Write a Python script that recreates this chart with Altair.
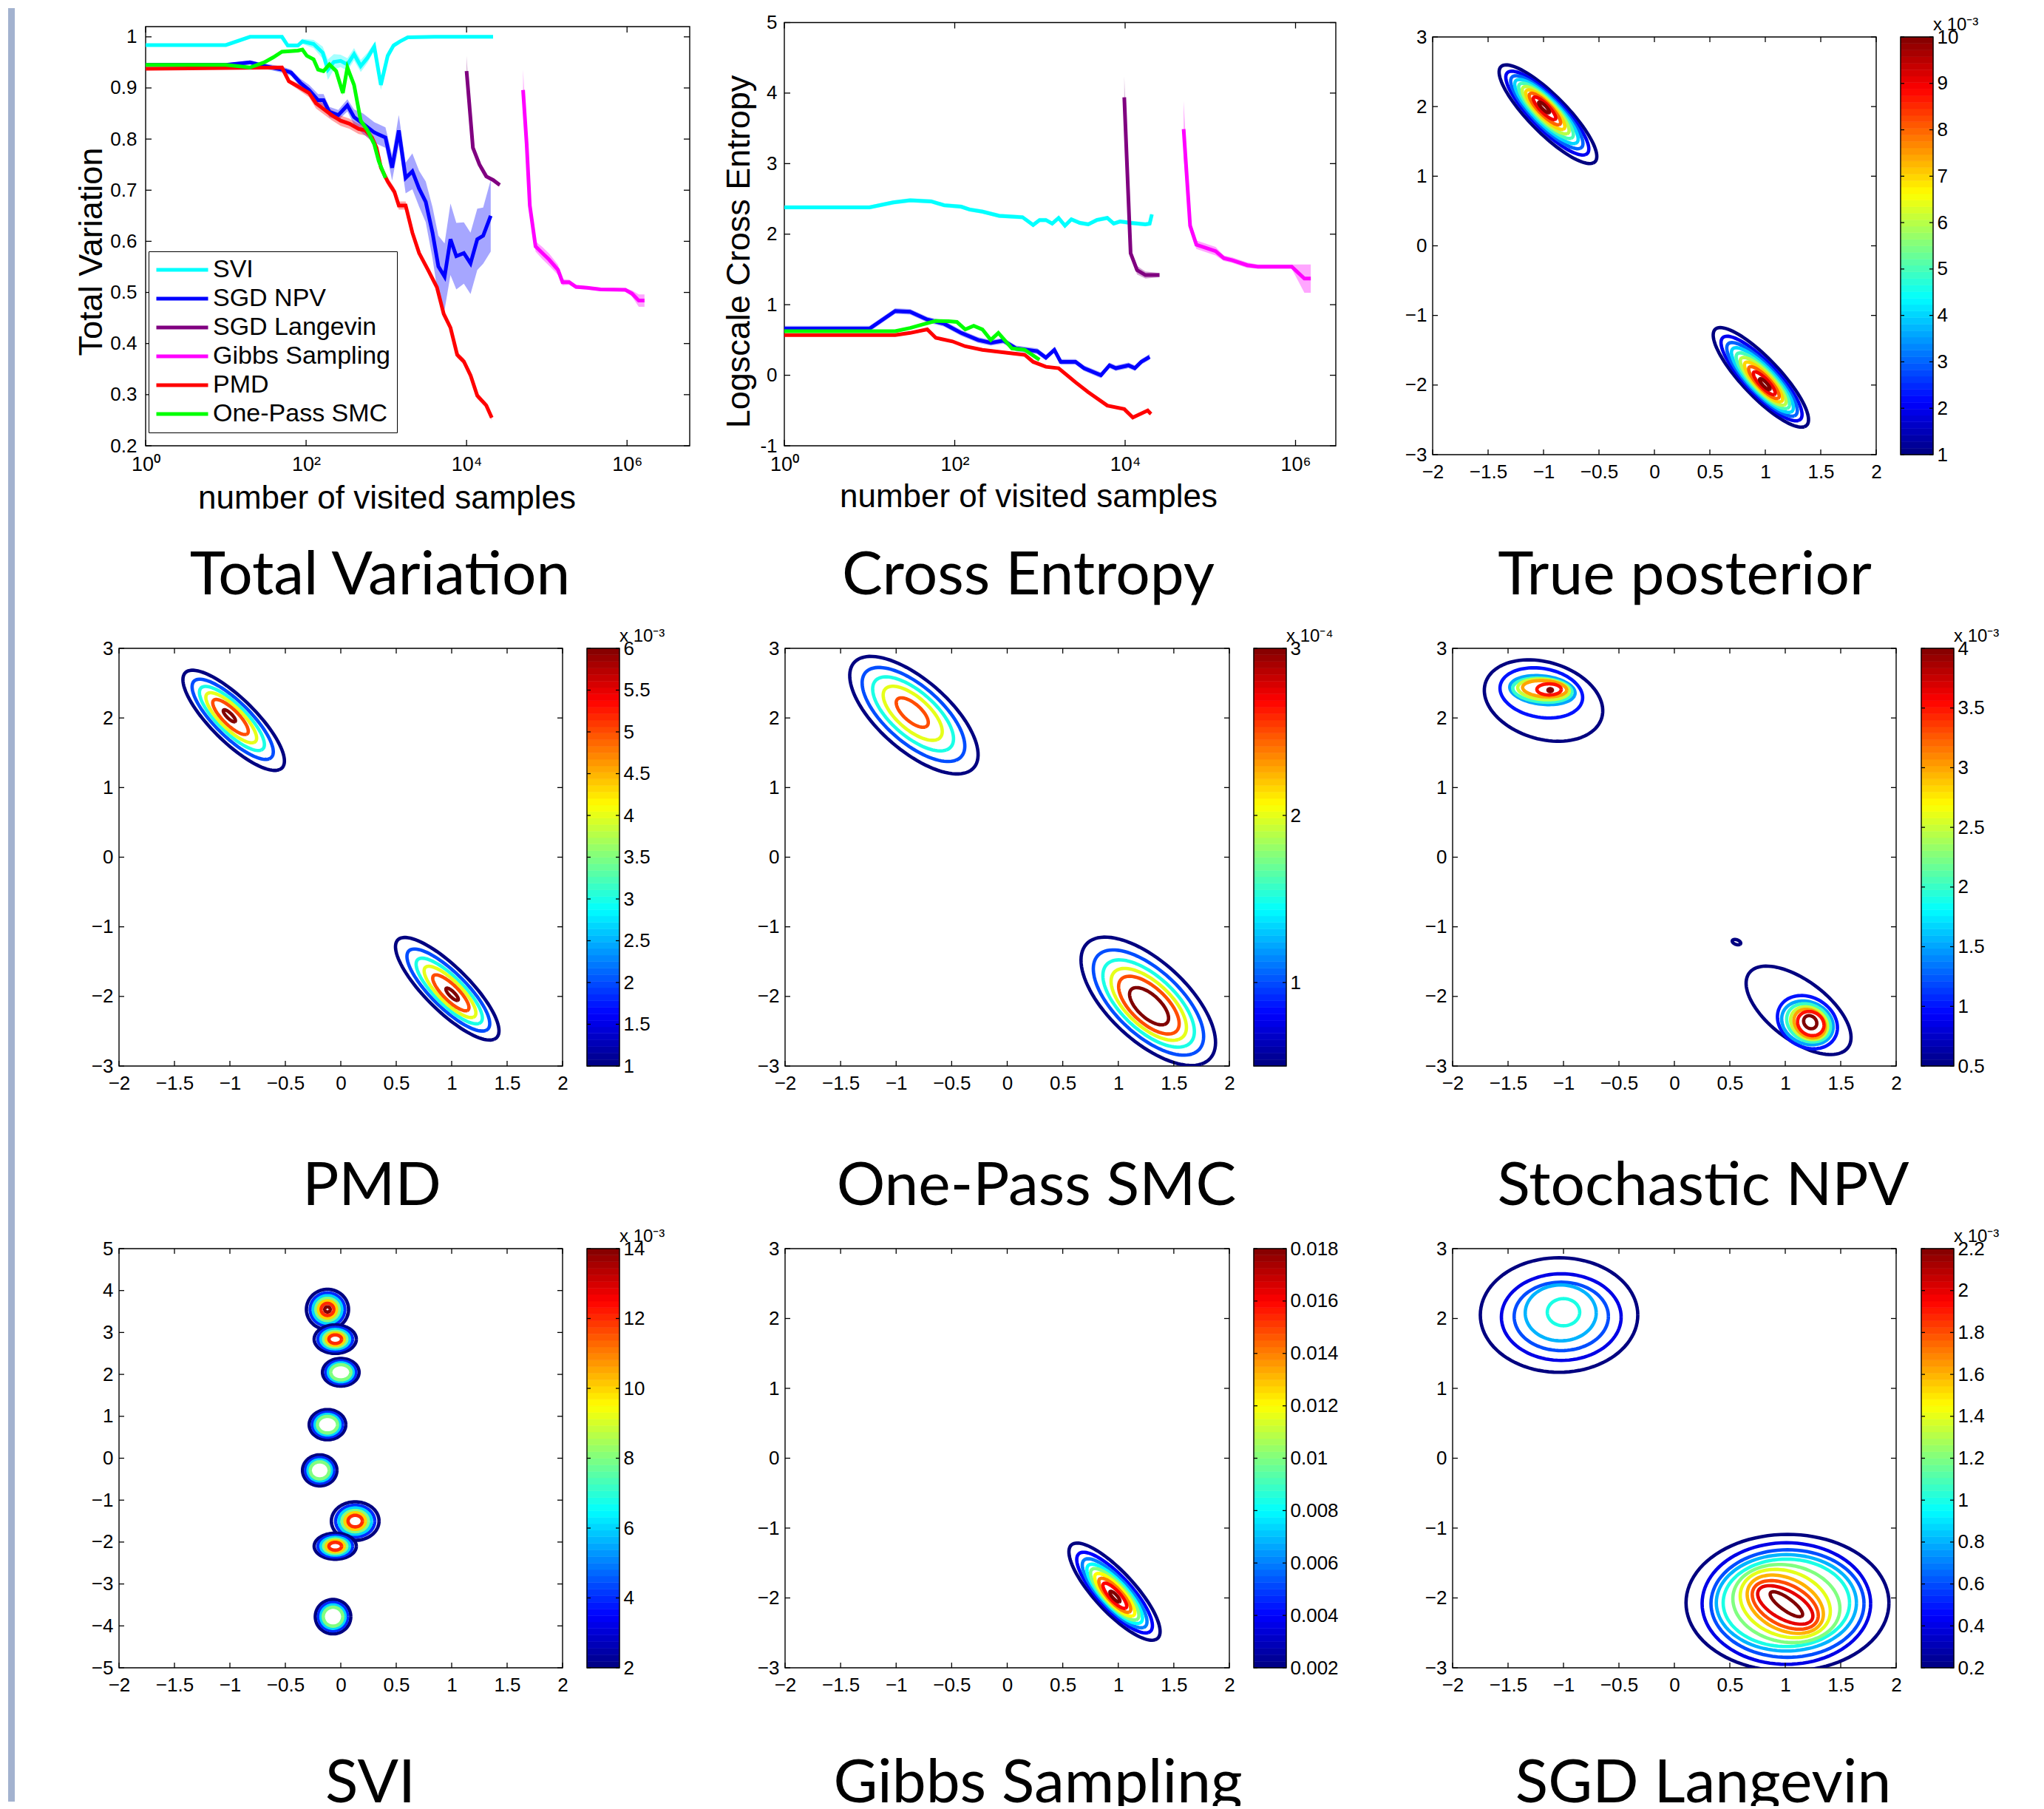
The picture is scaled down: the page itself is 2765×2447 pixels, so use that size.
import numpy as np
import pandas as pd
import altair as alt

LBL = "Liberation Sans"
CAP = "Lato"
CAP_SIZE = 82

# ---------------------------------------------------------------- line charts
SERIES = ["SVI", "SGD NPV", "SGD Langevin", "Gibbs Sampling", "PMD", "One-Pass SMC"]
SERIES_COLORS = ["#00ffff", "#0000ff", "#800080", "#ff00ff", "#ff0000", "#00ff00"]

# Total variation
TV_SVI_X = [1, 10, 20, 50, 59, 79, 90, 124, 161, 187, 222, 269, 327, 396, 480, 582, 707, 855, 1040, 1230, 1475, 1850, 4000, 21400]
TV_SVI_Y = [0.984, 0.984, 1.0, 1.0, 0.983, 0.983, 0.991, 0.986, 0.969, 0.936, 0.951, 0.953, 0.946, 0.966, 0.943, 0.959, 0.981, 0.906, 0.963, 0.983, 0.991, 0.999, 1.0, 1.0]
TV_SVI_E = [0.002, 0.002, 0.002, 0.002, 0.004, 0.004, 0.005, 0.008, 0.012, 0.02, 0.015, 0.012, 0.012, 0.012, 0.012, 0.01, 0.008, 0.01, 0.008, 0.005, 0.003, 0.002, 0.002, 0.002]

TV_NPV_X = [1, 10, 20, 30, 50, 65, 85, 109, 141, 165, 195, 252, 327, 396, 513, 707, 975, 1180, 1430, 1740, 2110, 2560, 3100, 3760, 4450, 5320, 6300, 7450, 9250, 11200, 13600, 16100, 20000]
TV_NPV_Y = [0.945, 0.945, 0.95, 0.943, 0.936, 0.93, 0.91, 0.896, 0.876, 0.876, 0.853, 0.847, 0.866, 0.843, 0.83, 0.813, 0.803, 0.744, 0.817, 0.724, 0.737, 0.703, 0.677, 0.617, 0.551, 0.531, 0.604, 0.571, 0.577, 0.557, 0.604, 0.611, 0.65]
TV_NPV_E = [0.003, 0.003, 0.004, 0.005, 0.006, 0.006, 0.008, 0.01, 0.012, 0.012, 0.01, 0.01, 0.012, 0.015, 0.02, 0.02, 0.02, 0.025, 0.03, 0.03, 0.035, 0.035, 0.04, 0.05, 0.06, 0.065, 0.07, 0.065, 0.06, 0.06, 0.06, 0.055, 0.07]

TV_LAN_X = [10000, 10800, 12000, 14500, 17600, 21400, 25900]
TV_LAN_Y = [0.933, 0.87, 0.783, 0.75, 0.727, 0.72, 0.71]
TV_LAN_E = [0.03, 0.01, 0.006, 0.004, 0.003, 0.003, 0.003]

TV_GIB_X = [50600, 56100, 61400, 72400, 87900, 107000, 138000, 157000, 190000, 231000, 318000, 468000, 951000, 1150000, 1400000, 1650000]
TV_GIB_Y = [0.896, 0.79, 0.67, 0.59, 0.577, 0.564, 0.544, 0.52, 0.52, 0.511, 0.509, 0.506, 0.505, 0.498, 0.484, 0.484]
TV_GIB_E = [0.04, 0.01, 0.008, 0.01, 0.012, 0.012, 0.01, 0.006, 0.005, 0.004, 0.003, 0.003, 0.003, 0.006, 0.012, 0.012]

TV_PMD_X = [1, 50, 61, 79, 109, 133, 161, 208, 269, 347, 451, 546, 662, 754, 857, 1040, 1260, 1430, 1740, 2110, 2560, 3310, 4270, 5190, 6300, 7640, 9250, 11200, 13600, 17600, 20600]
TV_PMD_Y = [0.9375, 0.94, 0.913, 0.903, 0.89, 0.87, 0.86, 0.847, 0.836, 0.83, 0.82, 0.817, 0.803, 0.783, 0.744, 0.717, 0.697, 0.67, 0.67, 0.617, 0.577, 0.544, 0.51, 0.458, 0.431, 0.378, 0.365, 0.338, 0.298, 0.279, 0.255]
TV_PMD_E = [0.002, 0.003, 0.004, 0.006, 0.008, 0.01, 0.01, 0.01, 0.01, 0.01, 0.01, 0.01, 0.008, 0.008, 0.008, 0.008, 0.008, 0.008, 0.008, 0.006, 0.006, 0.006, 0.006, 0.006, 0.006, 0.006, 0.006, 0.006, 0.006, 0.005, 0.005]

TV_SMC_X = [1, 10, 20, 30, 39, 50, 79, 90, 102, 124, 141, 165, 195, 237, 287, 327, 396, 480, 582, 707, 804, 975]
TV_SMC_Y = [0.945, 0.945, 0.94, 0.95, 0.96, 0.971, 0.973, 0.975, 0.963, 0.956, 0.936, 0.933, 0.946, 0.933, 0.89, 0.94, 0.906, 0.836, 0.817, 0.79, 0.757, 0.724]
TV_SMC_E = [0.002, 0.002, 0.002, 0.003, 0.003, 0.003, 0.003, 0.003, 0.003, 0.004, 0.004, 0.004, 0.004, 0.005, 0.005, 0.005, 0.005, 0.005, 0.005, 0.005, 0.005, 0.005]

# Logscale cross entropy
CE_SVI_X = [1, 10, 19, 30, 53, 75, 119, 149, 211, 333, 625, 832, 988, 1175, 1394, 1656, 1967, 2335, 2937, 3690, 4645, 6180, 7340, 8710, 11600, 17300, 19400, 20600]
CE_SVI_Y = [2.38, 2.38, 2.45, 2.48, 2.465, 2.41, 2.39, 2.35, 2.32, 2.26, 2.24, 2.13, 2.2, 2.2, 2.15, 2.23, 2.12, 2.21, 2.16, 2.14, 2.2, 2.23, 2.15, 2.18, 2.16, 2.14, 2.15, 2.28]
CE_SVI_E = 0.03

CE_NPV_X = [1, 10, 20, 30, 47.5, 75, 119, 188, 265, 373, 526, 933, 1175, 1477, 1753, 2620, 3290, 5200, 6550, 7780, 10960, 13000, 15450, 19400]
CE_NPV_Y = [0.66, 0.66, 0.91, 0.90, 0.79, 0.73, 0.60, 0.50, 0.46, 0.49, 0.38, 0.34, 0.25, 0.36, 0.19, 0.19, 0.10, 0.0, 0.14, 0.10, 0.14, 0.10, 0.19, 0.26]
CE_NPV_E = 0.04

CE_LAN_X = [9770, 11600, 13800, 17300, 25300]
CE_LAN_Y = [3.94, 1.73, 1.49, 1.42, 1.42]
CE_LAN_E = [0.3, 0.05, 0.06, 0.05, 0.03]

CE_GIB_X = [48600, 57900, 68600, 115000, 144000, 182000, 271000, 361000, 640000, 902000, 1270000, 1510000]
CE_GIB_Y = [3.49, 2.12, 1.85, 1.76, 1.66, 1.63, 1.56, 1.54, 1.54, 1.54, 1.37, 1.37]
CE_GIB_E = [0.4, 0.08, 0.06, 0.06, 0.04, 0.04, 0.04, 0.03, 0.03, 0.03, 0.2, 0.2]

CE_PMD_X = [1, 20, 30, 47.5, 60, 94, 133, 211, 470, 662, 832, 1175, 1656, 2620, 3690, 6180, 9770, 12300, 18400, 20100]
CE_PMD_Y = [0.57, 0.57, 0.60, 0.65, 0.53, 0.48, 0.41, 0.36, 0.31, 0.29, 0.19, 0.12, 0.10, -0.10, -0.24, -0.43, -0.48, -0.60, -0.50, -0.55]
CE_PMD_E = 0.02

CE_SMC_X = [1, 20, 30, 42, 60, 84, 106, 133, 167, 211, 265, 325, 470, 662, 988]
CE_SMC_Y = [0.625, 0.625, 0.67, 0.72, 0.77, 0.765, 0.755, 0.65, 0.70, 0.65, 0.50, 0.60, 0.38, 0.36, 0.22]
CE_SMC_E = 0.02

TV_DATA = {"SVI": (TV_SVI_X, TV_SVI_Y, TV_SVI_E), "SGD NPV": (TV_NPV_X, TV_NPV_Y, TV_NPV_E),
           "SGD Langevin": (TV_LAN_X, TV_LAN_Y, TV_LAN_E), "Gibbs Sampling": (TV_GIB_X, TV_GIB_Y, TV_GIB_E),
           "PMD": (TV_PMD_X, TV_PMD_Y, TV_PMD_E), "One-Pass SMC": (TV_SMC_X, TV_SMC_Y, TV_SMC_E)}
CE_DATA = {"SVI": (CE_SVI_X, CE_SVI_Y, CE_SVI_E), "SGD NPV": (CE_NPV_X, CE_NPV_Y, CE_NPV_E),
           "SGD Langevin": (CE_LAN_X, CE_LAN_Y, CE_LAN_E), "Gibbs Sampling": (CE_GIB_X, CE_GIB_Y, CE_GIB_E),
           "PMD": (CE_PMD_X, CE_PMD_Y, CE_PMD_E), "One-Pass SMC": (CE_SMC_X, CE_SMC_Y, CE_SMC_E)}

TV_YDOM = [0.2, 1.02]
TV_YTICKS = [0.2, 0.3, 0.4, 0.5, 0.6, 0.7, 0.8, 0.9, 1.0]
TV_XMAX = 6.04e6
CE_YDOM = [-1, 5]
CE_YTICKS = [-1, 0, 1, 2, 3, 4, 5]
CE_XMAX = 2.97e6
LOG_TICKS = [1, 100, 10000, 1000000]
LOG_LABELS = ["10\u2070", "10\u00b2", "10\u2074", "10\u2076"]

# ---------------------------------------------------------------- contour plots
X_TICKS = [-2, -1.5, -1, -0.5, 0, 0.5, 1, 1.5, 2]
Y_TICKS3 = [-3, -2, -1, 0, 1, 2, 3]
Y_TICKS5 = [-5, -4, -3, -2, -1, 0, 1, 2, 3, 4, 5]

# mode = (peak, centre of outermost ring, a, b, angle) ; ring i scaled by scales[i]
TP_LEVELS = [1, 2, 3, 4, 5, 6, 7, 8, 9, 10]
TP_SCALES = [1.0, 0.85, 0.74, 0.65, 0.56, 0.48, 0.40, 0.32, 0.23, 0.11]
TP_MODES = [((-1.0, 2.0), (-0.96, 1.89), 0.81, 0.20, -60), ((1.0, -2.0), (0.96, -1.89), 0.81, 0.20, -61)]
TP_CDOM = [1, 10]
TP_CTICKS = [1, 2, 3, 4, 5, 6, 7, 8, 9, 10]

PMD_LEVELS = [1, 2, 3, 4, 5, 6]
PMD_SCALES = [1.0, 0.80, 0.64, 0.50, 0.35, 0.12]
PMD_MODES = [((-1.01, 2.04), (-0.966, 1.966), 0.82, 0.235, -60), ((1.01, -1.98), (0.96, -1.89), 0.84, 0.235, -60)]
PMD_CDOM = [1, 6]
PMD_CTICKS = [1, 1.5, 2, 2.5, 3, 3.5, 4, 4.5, 5, 5.5, 6]

SMC_A_LEVELS = [0.5, 1, 1.5, 2, 2.5]
SMC_A_SCALES = [1.0, 0.80, 0.63, 0.46, 0.25]
SMC_B_LEVELS = [0.5, 1, 1.5, 2, 2.5, 3]
SMC_B_SCALES = [1.0, 0.82, 0.68, 0.56, 0.45, 0.29]
SMC_A_MODE = ((-0.86, 2.09), (-0.84, 2.04), 0.95, 0.38, -60)
SMC_B_MODE = ((1.28, -2.17), (1.27, -2.07), 1.02, 0.42, -62)
SMC_CDOM = [0.5, 3]
SMC_CTICKS = [1, 2, 3]

# explicit rings: (level, cx, cy, a, b, angle)
NPV_RINGS = [
    (0.5, -1.18, 2.25, 0.63, 0.48, -55), (1.0, -1.20, 2.36, 0.40, 0.33, -40),
    (1.5, -1.19, 2.40, 0.30, 0.20, -15), (2.0, -1.19, 2.40, 0.27, 0.17, -10),
    (2.5, -1.18, 2.41, 0.235, 0.145, -10), (3.0, -1.17, 2.42, 0.20, 0.115, -8),
    (3.5, -1.13, 2.41, 0.11, 0.08, 0), (4.0, -1.12, 2.40, 0.02, 0.02, 0),
    (0.5, 1.12, -2.20, 0.72, 0.33, -58), (1.0, 1.20, -2.37, 0.39, 0.26, -75),
    (1.5, 1.20, -2.38, 0.32, 0.225, -75), (2.0, 1.21, -2.38, 0.28, 0.19, -75),
    (2.5, 1.215, -2.385, 0.24, 0.16, -75), (3.0, 1.22, -2.39, 0.21, 0.135, -75),
    (3.5, 1.23, -2.39, 0.175, 0.117, -80), (4.0, 1.225, -2.37, 0.095, 0.058, -80),
    (0.5, 0.56, -1.22, 0.045, 0.03, -45),
]
NPV_CDOM = [0.5, 4]
NPV_CTICKS = [0.5, 1, 1.5, 2, 2.5, 3, 3.5, 4]

# SVI blobs: (cx, cy, rx, ry, number of levels)
SVI_BLOBS = [(-0.12, 3.55, 0.19, 0.48, 7), (-0.05, 2.84, 0.19, 0.34, 6), (0.00, 2.05, 0.165, 0.33, 4),
             (-0.12, 0.80, 0.165, 0.36, 4), (-0.19, -0.29, 0.155, 0.37, 4), (0.13, -1.50, 0.215, 0.46, 6),
             (-0.05, -2.10, 0.19, 0.31, 6), (-0.07, -3.78, 0.16, 0.41, 4)]
SVI_LEVELS = [2, 4, 6, 8, 10, 12, 14]
SVI_SCALES = [1.0, 0.82, 0.68, 0.55, 0.43, 0.30, 0.13]
SVI_CDOM = [2, 14]
SVI_CTICKS = [2, 4, 6, 8, 10, 12, 14]

GIB_LEVELS = [0.002, 0.004, 0.006, 0.008, 0.010, 0.012, 0.014, 0.016, 0.018]
GIB_SCALES = [1.0, 0.83, 0.71, 0.61, 0.53, 0.44, 0.35, 0.26, 0.11]
GIB_MODE = ((0.97, -1.99), (0.966, -1.91), 0.78, 0.21, -62)
GIB_CDOM = [0.002, 0.018]
GIB_CTICKS = [0.002, 0.004, 0.006, 0.008, 0.01, 0.012, 0.014, 0.016, 0.018]

LAN_RINGS = [
    (0.2, -1.04, 2.05, 0.71, 0.82, 0), (0.4, -1.02, 2.02, 0.54, 0.62, 0),
    (0.6, -1.02, 2.03, 0.425, 0.49, 0), (0.8, -1.025, 2.08, 0.32, 0.40, 0),
    (1.0, -1.00, 2.09, 0.146, 0.194, 0),
    (0.2, 1.02, -2.07, 0.915, 0.98, 0), (0.4, 1.01, -2.08, 0.76, 0.87, 0),
    (0.6, 1.02, -2.08, 0.69, 0.77, 0), (0.8, 1.01, -2.07, 0.632, 0.69, 0),
    (1.0, 1.01, -2.07, 0.57, 0.626, 0), (1.2, 1.01, -2.08, 0.57, 0.47, -70),
    (1.4, 1.00, -2.08, 0.51, 0.38, -65), (1.6, 1.00, -2.09, 0.45, 0.30, -60),
    (1.8, 1.00, -2.10, 0.39, 0.24, -55), (2.0, 1.00, -2.10, 0.33, 0.17, -50),
    (2.2, 1.01, -2.09, 0.22, 0.07, -52),
]
LAN_CDOM = [0.2, 2.2]
LAN_CTICKS = [0.2, 0.4, 0.6, 0.8, 1.0, 1.2, 1.4, 1.6, 1.8, 2.0, 2.2]

JET_STOPS = [0, 0.125, 0.375, 0.625, 0.875, 1]
JET_COLORS = ["#000080", "#0000ff", "#00ffff", "#ffff00", "#ff0000", "#800000"]

CB_TITLE3 = "x 10\u207b\u00b3"
CB_TITLE4 = "x 10\u207b\u2074"

TICK_FS = 26          # contour / colour-bar tick labels
ONE = pd.DataFrame({"k": [0]})


def jet(cdom):
    lo, hi = cdom
    return alt.Scale(domain=[lo + s * (hi - lo) for s in JET_STOPS], range=JET_COLORS, interpolate="rgb")


def mode_rings(levels, scales, mode):
    (px, py), (ox, oy), a, b, ang = mode
    return [(L, px + s * (ox - px), py + s * (oy - py), s * a, s * b, ang) for L, s in zip(levels, scales)]


def ellipse_df(rings):
    t = np.linspace(0, 2 * np.pi, 97)
    out = []
    for k, (lvl, cx, cy, a, b, ang) in enumerate(rings):
        th = np.radians(ang)
        xs = cx + a * np.cos(t) * np.cos(th) - b * np.sin(t) * np.sin(th)
        ys = cy + a * np.cos(t) * np.sin(th) + b * np.sin(t) * np.cos(th)
        for o in range(len(t)):
            out.append((k, o, float(xs[o]), float(ys[o]), lvl))
    return pd.DataFrame(out, columns=["ring", "o", "x", "y", "lvl"])


def spacer(w, h):
    return alt.Chart(ONE).mark_point(opacity=0).encode(x=alt.value(0), y=alt.value(0)).properties(width=w, height=h)


def edge_ticks(xt, yt, xsc, ysc, W, H, off, L):
    layers = []
    if yt is not None:
        d = pd.DataFrame({"v": yt})
        b = alt.Chart(d).mark_rule(color="black", strokeWidth=1.3)
        layers.append(b.encode(y=alt.Y("v:Q", scale=ysc), x=alt.value(0), x2=alt.value(L)))
        layers.append(b.encode(y=alt.Y("v:Q", scale=ysc), x=alt.value(W - L), x2=alt.value(W)))
    if xt is not None:
        d = pd.DataFrame({"v": xt})
        b = alt.Chart(d).mark_rule(color="black", strokeWidth=1.3)
        layers.append(b.encode(x=alt.X("v:Q", scale=xsc), y=alt.value(H - L), y2=alt.value(H)))
        layers.append(b.encode(x=alt.X("v:Q", scale=xsc), y=alt.value(off), y2=alt.value(off + L)))
    return layers


def caption(text, cx, cy):
    return alt.Chart(ONE).mark_text(font=CAP, fontSize=CAP_SIZE, align="center", baseline="alphabetic",
                                    color="black").encode(x=alt.value(cx), y=alt.value(cy), text=alt.value(text))


def line_panel(data, ydom, yt, ylab_expr, xmax, W, H, off, ytitle, ytx, xtx, xty, ylpad, legend, cap, capx, capy):
    rows = []
    for name in SERIES:
        xs, ys, es = data[name]
        if not isinstance(es, list):
            es = [es] * len(xs)
        for x, y, e in zip(xs, ys, es):
            rows.append((name, x, y, y - e, y + e))
    df = pd.DataFrame(rows, columns=["series", "x", "y", "lo", "hi"])
    xsc = alt.Scale(type="log", domain=[1, xmax], nice=False)
    ysc = alt.Scale(domain=ydom, range=[H, off], nice=False, zero=False)
    lab_expr = " : ".join(
        [f"datum.value == {v} ? '{l}'" for v, l in zip(LOG_TICKS[:-1], LOG_LABELS[:-1])] + [f"'{LOG_LABELS[-1]}'"])
    xaxis = alt.Axis(values=LOG_TICKS, labelExpr=lab_expr, labelFontSize=27, labelPadding=12, labelFlush=False,
                     labelOverlap=False, title="number of visited samples", titleFontSize=44, titleX=xtx, titleY=xty,
                     titleAlign="center", titleBaseline="alphabetic", titleAngle=0, orient="bottom")
    yaxis = alt.Axis(values=yt, labelExpr=ylab_expr, labelFontSize=26, labelPadding=ylpad, labelOverlap=False,
                     title=ytitle, titleFontSize=45, titleX=ytx, titleY=329, titleAlign="center",
                     titleBaseline="alphabetic", titleAngle=270, orient="left")
    frame = alt.Chart(pd.DataFrame({"x0": [1], "x1": [xmax], "y0": [ydom[0]], "y1": [ydom[1]]})).mark_rect(
        fillOpacity=0, stroke="black", strokeWidth=1.4).encode(
        x=alt.X("x0:Q", scale=xsc, axis=xaxis), x2=alt.X2("x1"),
        y=alt.Y("y0:Q", scale=ysc, axis=yaxis), y2=alt.Y2("y1"))
    # band fill scale listed in reverse order so that its (hidden) legend stays separate
    fsc = alt.Scale(domain=SERIES[::-1], range=SERIES_COLORS[::-1])
    bands = alt.Chart(df).mark_area(opacity=0.35).encode(
        x=alt.X("x:Q", scale=xsc), y=alt.Y("lo:Q", scale=ysc), y2=alt.Y2("hi"),
        fill=alt.Fill("series:N", scale=fsc, legend=None), detail="series:N")
    sc = alt.Scale(domain=SERIES, range=SERIES_COLORS)
    lines = alt.Chart(df).mark_line(strokeWidth=5).encode(
        x=alt.X("x:Q", scale=xsc), y=alt.Y("y:Q", scale=ysc),
        color=alt.Color("series:N", scale=sc, legend=legend))
    ticks = edge_ticks(LOG_TICKS, yt, xsc, ysc, W, H, off, 8)
    return alt.layer(frame, bands, lines, *ticks, caption(cap, capx, capy)).properties(width=W, height=H)


def contour_panel(rings, ydom, yt, cdom, W, H, off, cap, capx, capy):
    df = ellipse_df(rings)
    xdom = [-2, 2]
    xsc = alt.Scale(domain=xdom, nice=False, zero=False)
    ysc = alt.Scale(domain=ydom, range=[H, off], nice=False, zero=False)
    frame = alt.Chart(pd.DataFrame({"x0": [xdom[0]], "x1": [xdom[1]], "y0": [ydom[0]], "y1": [ydom[1]]})).mark_rect(
        fillOpacity=0, stroke="black", strokeWidth=1.4).encode(
        x=alt.X("x0:Q", scale=xsc, axis=alt.Axis(values=X_TICKS, format="~g", labelFontSize=TICK_FS,
                                                 labelPadding=10, labelFlush=False, labelOverlap=False,
                                                 title=None, orient="bottom")),
        x2=alt.X2("x1"),
        y=alt.Y("y0:Q", scale=ysc, axis=alt.Axis(values=yt, format="~g", labelFontSize=TICK_FS, labelPadding=8,
                                                 labelOverlap=False, title=None, orient="left")),
        y2=alt.Y2("y1"))
    lines = alt.Chart(df).mark_line(strokeWidth=4.6, clip=True).encode(
        x=alt.X("x:Q", scale=xsc), y=alt.Y("y:Q", scale=ysc),
        color=alt.Color("lvl:Q", scale=jet(cdom), legend=None), detail="ring:N", order="o:Q")
    ticks = edge_ticks(X_TICKS, yt, xsc, ysc, W, H, off, 7)
    layers = [frame, lines] + ticks
    if cap:
        layers.append(caption(cap, capx, capy))
    return alt.layer(*layers).properties(width=W, height=H)


def colorbar(cdom, ticks, W, H, off, title):
    edges = np.linspace(cdom[0], cdom[1], 65)
    df = pd.DataFrame({"lo": edges[:-1], "hi": edges[1:], "mid": (edges[:-1] + edges[1:]) / 2})
    ysc = alt.Scale(domain=cdom, range=[H, off], nice=False, zero=False)
    bands = alt.Chart(df).mark_rect(strokeWidth=0.6).encode(
        y=alt.Y("lo:Q", scale=ysc, axis=alt.Axis(orient="right", values=ticks, format="~g", labelFontSize=TICK_FS,
                                                 labelPadding=5, labelOverlap=False, title=None)),
        y2=alt.Y2("hi"), x=alt.value(0), x2=alt.value(W),
        color=alt.Color("mid:Q", scale=jet(cdom), legend=None),
        stroke=alt.Stroke("mid:Q", scale=jet(cdom), legend=None))
    frame = alt.Chart(pd.DataFrame({"y0": [cdom[0]], "y1": [cdom[1]]})).mark_rect(
        fillOpacity=0, stroke="black", strokeWidth=1.4).encode(
        y=alt.Y("y0:Q", scale=ysc), y2=alt.Y2("y1"), x=alt.value(0), x2=alt.value(W))
    layers = [bands, frame] + edge_ticks(None, ticks, None, ysc, W, H, off, 5)
    if title:
        layers.append(alt.Chart(ONE).mark_text(font=LBL, fontSize=24, align="left", baseline="alphabetic",
                                               color="black").encode(
            x=alt.value(W), y=alt.value(off - 9), text=alt.value(title)))
    return alt.layer(*layers).properties(width=W, height=H)


# ---------------------------------------------------------------- assemble
tv_legend = alt.Legend(orient="none", legendX=4, legendY=329, title=None, symbolType="stroke", symbolSize=4900,
                       symbolStrokeWidth=5, clipHeight=34, labelFont=LBL, labelFontSize=34, labelColor="black",
                       padding=8, rowPadding=5, labelOffset=4, strokeColor="black", fillColor="white",
                       labelLimit=600, labelExpr="datum.label + '\u00a0\u00a0\u00a0\u00a0\u00a0'")

P1 = line_panel(TV_DATA, TV_YDOM, TV_YTICKS, "format(datum.value, '~g')", TV_XMAX, 736, 592, 25,
                "Total Variation", -60, 326, 84, 12, tv_legend, "Total Variation", 317, 793)
P2 = line_panel(CE_DATA, CE_YDOM, CE_YTICKS, "'' + datum.value", CE_XMAX, 746, 592, 19.5,
                "Logscale Cross Entropy", -48, 330, 82, 10, None, "Cross Entropy", 330, 793)

tp_rings = mode_rings(TP_LEVELS, TP_SCALES, TP_MODES[0]) + mode_rings(TP_LEVELS, TP_SCALES, TP_MODES[1])
P3 = contour_panel(tp_rings, [-3, 3], Y_TICKS3, TP_CDOM, 600, 604, 39, "True posterior", 341, 793)
CB3 = colorbar(TP_CDOM, TP_CTICKS, 44, 604, 39, CB_TITLE3)

pmd_rings = mode_rings(PMD_LEVELS, PMD_SCALES, PMD_MODES[0]) + mode_rings(PMD_LEVELS, PMD_SCALES, PMD_MODES[1])
P4 = contour_panel(pmd_rings, [-3, 3], Y_TICKS3, PMD_CDOM, 600, 601, 36, "PMD", 342, 789)
CB4 = colorbar(PMD_CDOM, PMD_CTICKS, 44, 601, 36, CB_TITLE3)

smc_rings = mode_rings(SMC_A_LEVELS, SMC_A_SCALES, SMC_A_MODE) + mode_rings(SMC_B_LEVELS, SMC_B_SCALES, SMC_B_MODE)
P5 = contour_panel(smc_rings, [-3, 3], Y_TICKS3, SMC_CDOM, 601, 601, 36, "One-Pass SMC", 340, 789)
CB5 = colorbar(SMC_CDOM, SMC_CTICKS, 44, 601, 36, CB_TITLE4)

P6 = contour_panel(NPV_RINGS, [-3, 3], Y_TICKS3, NPV_CDOM, 600, 601, 36, "Stochastic NPV", 339, 789)
CB6 = colorbar(NPV_CDOM, NPV_CTICKS, 44, 601, 36, CB_TITLE3)

svi_rings = []
for (cx, cy, rx, ry, n) in SVI_BLOBS:
    svi_rings += mode_rings(SVI_LEVELS[:n], SVI_SCALES[:n], ((cx, cy), (cx, cy), rx, ry, 0))
P7 = contour_panel(svi_rings, [-5, 5], Y_TICKS5, SVI_CDOM, 600, 602, 35, None, 0, 0)
CB7 = colorbar(SVI_CDOM, SVI_CTICKS, 44, 602, 35, CB_TITLE3)

P8 = contour_panel(mode_rings(GIB_LEVELS, GIB_SCALES, GIB_MODE), [-3, 3], Y_TICKS3, GIB_CDOM, 601, 602, 35, None, 0, 0)
CB8 = colorbar(GIB_CDOM, GIB_CTICKS, 44, 602, 35, None)

P9 = contour_panel(LAN_RINGS, [-3, 3], Y_TICKS3, LAN_CDOM, 600, 602, 35, None, 0, 0)
CB9 = colorbar(LAN_CDOM, LAN_CTICKS, 44, 602, 35, CB_TITLE3)

ROW3_CAPTIONS = ["SVI", "Gibbs Sampling", "SGD Langevin"]
ROW3_CAP_X = [478, 1381, 2281]
cap_row = alt.Chart(pd.DataFrame({"t": ROW3_CAPTIONS, "px": ROW3_CAP_X})).mark_text(
    font=CAP, fontSize=CAP_SIZE, align="center", baseline="alphabetic", color="black", clip=True).encode(
    x=alt.X("px:Q", scale=None, axis=None), y=alt.value(71), text="t:N").properties(width=2620, height=76)

RES = dict(color="independent", fill="independent", stroke="independent")

row1 = alt.hconcat(spacer(174, 827), P1, spacer(128, 1), P2, spacer(131, 1), P3, spacer(33, 1), CB3,
                   spacing=0, bounds="flush").resolve_scale(**RES)
row2 = alt.hconcat(spacer(138, 810), P4, spacer(33, 1), CB4, spacer(224, 1), P5, spacer(33, 1), CB5,
                   spacer(225, 1), P6, spacer(34, 1), CB6, spacing=0, bounds="flush").resolve_scale(**RES)
row3 = alt.hconcat(spacer(138, 713), P7, spacer(33, 1), CB7, spacer(224, 1), P8, spacer(33, 1), CB8,
                   spacer(225, 1), P9, spacer(34, 1), CB9, spacing=0, bounds="flush").resolve_scale(**RES)

body = alt.vconcat(row1, row2, row3, cap_row, spacing=0).resolve_scale(**RES)

strip = alt.Chart(ONE).mark_point(opacity=0).encode(x=alt.value(0), y=alt.value(0)).properties(
    width=9, height=2426, view=alt.ViewBackground(fill="#a3b2cf", strokeWidth=0))

chart = alt.hconcat(strip, body, spacing=0, padding=0).resolve_scale(**RES).configure_view(
    strokeWidth=0).configure_axis(
    labelFont=LBL, titleFont=LBL, labelColor="black", titleColor="black", grid=False, ticks=False,
    tickSize=0, domain=False, titleFontWeight="normal").configure_legend(labelFont=LBL)

chart.save("out.html", embed_options={"renderer": "svg", "actions": False})
